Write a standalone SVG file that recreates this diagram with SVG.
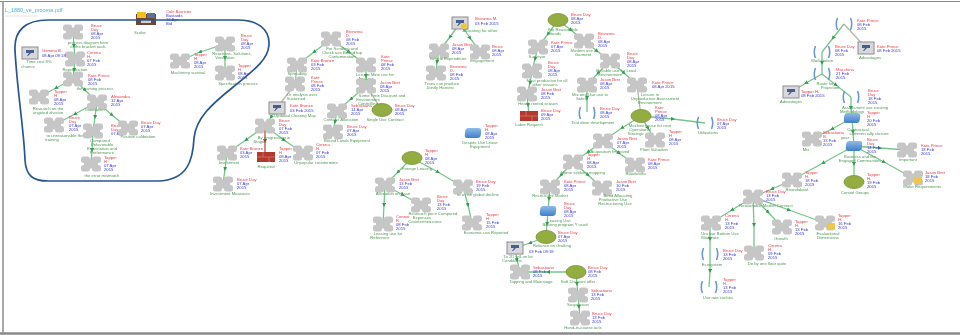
<svg xmlns="http://www.w3.org/2000/svg" width="960" height="335" viewBox="0 0 960 335">
<style>
text{font-family:"Liberation Sans",Arial,sans-serif;font-size:4.2px}
.r{fill:#e8404a}.b{fill:#3a3ad0}.g{fill:#4f9a55;text-anchor:middle}
#edges path{fill:none;stroke:#79c48a;stroke-width:1.3;marker-mid:url(#m)}
#edges path.n{stroke:#b4b8a4;marker-mid:none}
#edges path.x{stroke:#b3503f;marker-mid:url(#mr)}
.el{fill:#93ad3f;stroke:#76923a;stroke-width:.8}
.br{fill:none;stroke:#6d9bc9;stroke-width:1.6}
</style>
<defs>
<filter id="f" filterUnits="userSpaceOnUse" x="0" y="0" width="960" height="335"><feGaussianBlur stdDeviation="0.45"/></filter>
<linearGradient id="bl" x1="0" y1="0" x2="0" y2="1"><stop offset="0" stop-color="#8fbce8"/><stop offset="1" stop-color="#3f7fc8"/></linearGradient>
<marker id="m" markerWidth="6" markerHeight="6" refX="2" refY="2" orient="auto" markerUnits="userSpaceOnUse"><path d="M0 0L4 2L0 4Z" fill="#2f9e50"/></marker>
<marker id="mr" markerWidth="6" markerHeight="6" refX="2" refY="2" orient="auto" markerUnits="userSpaceOnUse"><path d="M0 0L4 2L0 4Z" fill="#a33"/></marker>
<g id="pz" fill="#c6c6c6"><rect x="-10" y="-7.500" width="9" height="6.500" rx="2.500"/><rect x="1" y="-7.500" width="9" height="6.500" rx="2.500"/><rect x="-10" y="1" width="9" height="6.500" rx="2.500"/><rect x="1" y="1" width="9" height="6.500" rx="2.500"/><rect x="-3.500" y="-4.500" width="7" height="9"/><rect x="-7" y="-2.500" width="14" height="5"/></g>
<g id="dc"><rect x="-8" y="-6" width="16" height="12" fill="#d8d8dc" stroke="#8d8d93" stroke-width="1"/><path d="M-4 -3H4V0H1L-2 3H-3L-1 0H-4Z" fill="#44608a"/></g>
<g id="bk"><rect x="-9" y="-5" width="18" height="10" fill="#b5392e"/><path d="M-9 0H9M-3 -5V0M3 0V5" stroke="#e08a80" stroke-width=".6"/></g>
<rect id="bs" x="-8" y="-5" width="16" height="10" rx="3" fill="url(#bl)" transform="skewX(-6)"/>
<path id="bt" class="br" d="M-6.500 -6Q-9 0 -6.500 6M6.500 -6Q9 0 6.500 6"/>
</defs>
<rect width="960" height="335" fill="#fff"/>
<g fill="none" stroke="#8a8a8a"><path d="M0 1.500H960" stroke-width="1.200"/><path d="M3 2V333" stroke-width="1" stroke="#555"/><path d="M0 333.500H960" stroke-width="2.400"/></g>
<g filter="url(#f)">
<text x="5" y="11.500" style="font-size:5.400px;fill:#49b4e0">L_1880_ve_process.pdf</text>
<path d="M5 16H38" stroke="#e4e4e4" stroke-width="1"/>
<g id="edges">
<path d="M73 32L74 46L75 59"/><path d="M75 59L74 70L73 79"/><path d="M73 79L56 88L39 97"/><path d="M73 79L85 90L97 102"/><path d="M97 102L75 114L54 125"/><path d="M97 102L95 117L93 131"/><path d="M97 102L112 115L128 128"/><path d="M93 131L92 150L91 164"/>
<path d="M225 44L200 52L180 61"/><path d="M225 44L225 58L225 73"/>
<path d="M331 39L314 52L297 65"/><path class="n" d="M297 65L295 84L277 108"/><path d="M331 39L349 52L366 65"/><path d="M366 65L366 76L366 86"/><path d="M366 86L351 99L337 111"/><path d="M337 111L335 122L333 132"/><path class="n" d="M366 86L374 98L382 110"/>
<path d="M277 108L271 117L265 126"/><path class="x" d="M265 126L265 141L265 158"/><path d="M265 126L246 140L227 153"/><path d="M227 153L225 169L223 184"/><path d="M265 126L284 140L303 153"/>
<path d="M460 23L450 37L439 51"/><path d="M460 23L470 38L480 52"/><path d="M439 51L437 62L436 73"/>
<path d="M412 158L398 172L385 185"/><path d="M412 158L438 172L463 187"/><path d="M385 185L403 195L421 205"/><path d="M385 185L384 205L383 224"/><path d="M463 187L468 205L472 223"/>
<path d="M558 20L548 34L538 47"/><path d="M538 47L535 59L532 71"/><path d="M532 71L530 83L527 94"/><path d="M527 94L528 105L529 116"/><path d="M558 20L571 30L584 41"/><path d="M584 41L597 51L610 61"/><path d="M610 61L598 73L587 85"/><path d="M610 61L624 73L637 85"/><path d="M587 85L587 98L587 112"/><path class="n" d="M637 85L639 100L641 116"/>
<path d="M641 116L622 128L603 141"/><path d="M641 116L648 128L655 140"/><path d="M641 116L673 119L705 123"/><path d="M603 141L619 153L635 165"/><path d="M603 141L588 152L573 162"/><path d="M573 162L561 175L550 187"/><path d="M573 162L588 175L602 188"/><path d="M550 187L549 199L548 211"/><path d="M548 211L547 224L546 237"/><path d="M546 237L530 243L515 248"/><path d="M515 248L517 260L520 272"/><path d="M576 272L548 272L520 272"/><path d="M576 272L577 284L578 295"/><path d="M578 295L579 307L580 318"/>
<path d="M844 24L833 38L822 52"/><path class="n" d="M844 24L855 36L866 48"/><path d="M822 52L822 63L822 74"/><path d="M822 74L806 83L791 92"/><path d="M822 74L836 85L851 97"/><path d="M851 97L851 108L852 118"/><path d="M852 118L832 129L812 139"/><path d="M852 118L853 132L854 146"/><path d="M854 146L880 148L907 150"/><path d="M854 146L854 164L854 182"/><path d="M854 146L884 162L913 178"/><path d="M854 146L823 163L792 180"/><path d="M792 180L772 189L753 197"/><path d="M753 197L732 210L711 223"/><path d="M753 197L768 212L782 227"/><path d="M753 197L789 210L825 223"/><path d="M753 197L754 225L754 253"/><path d="M710 223L710 239L710 254"/><path d="M710 254L710 271L709 287"/>
</g>
<g id="n-tool"><rect x="136" y="14" width="20" height="11" fill="#6b4a3a"/><rect x="137" y="12" width="9" height="6" fill="#f2c21d"/><rect x="147" y="13" width="8" height="5" fill="#5c6f9c"/><rect x="141" y="20" width="10" height="3" fill="#d8d0c0"/><text class="r" x="166" y="13">Cole Barrister</text><text class="b" x="166" y="17">Bastards</text><text class="b" x="166" y="21">12 Apr</text><text class="b" x="166" y="25">Bid</text><text class="g" x="140" y="33.500">Scribe</text></g>
<g id="n-a"><use href="#pz" x="73" y="32"/><text class="r" x="91" y="27">Bruce</text><text class="r" x="91" y="31">Day</text><text class="b" x="91" y="35">08 Apr</text><text class="b" x="91" y="39">2015</text><text class="g" x="88" y="43.500">process diagram here</text><text class="g" x="88" y="47.500">of the bracket tools</text></g>
<g id="n-b"><use href="#pz" x="75" y="59"/><text class="r" x="87" y="54">Cirrena</text><text class="r" x="87" y="58">H.</text><text class="b" x="87" y="62">07 Feb</text><text class="b" x="87" y="66">2015</text><text class="g" x="75" y="71">Reproduction</text></g>
<g id="n-q"><use href="#dc" x="30" y="53"/><text class="r" x="42" y="52">Gemma B.</text><text class="b" x="42" y="56.500">08 Apr 09:18</text><text class="g" x="39" y="63">Time cost 8%</text><text class="g" x="28" y="67.500">chance</text></g>
<g id="n-c"><use href="#pz" x="73" y="79"/><text class="r" x="88" y="76.500">Kate Prince</text><text class="b" x="88" y="80.500">08 Feb</text><text class="b" x="88" y="84.500">2015</text><text class="g" x="95" y="90">the training process</text></g>
<g id="n-d"><use href="#pz" x="39" y="97"/><text class="r" x="54" y="93">Tapper</text><text class="r" x="54" y="97">H</text><text class="b" x="54" y="101">08 Apr</text><text class="b" x="54" y="105">2015</text><text class="g" x="48" y="110">Research on the</text><text class="g" x="48" y="114">ungated division</text></g>
<g id="n-e"><use href="#pz" x="97" y="102"/><text class="r" x="111" y="98">Alexandra</text><text class="b" x="111" y="102">12 Apr</text><text class="b" x="111" y="106">2015</text><text class="g" x="95" y="111">foundation</text></g>
<g id="n-f"><use href="#pz" x="54" y="125"/><text class="r" x="69" y="119">Bruce</text><text class="r" x="69" y="123">Day</text><text class="b" x="69" y="127">07 Apr</text><text class="b" x="69" y="131">2015</text><text class="g" x="65" y="137">to unreasonable the</text><text class="g" x="52" y="141">training</text></g>
<g id="n-g"><use href="#pz" x="93" y="131"/><text class="r" x="111" y="127">Bruce</text><text class="r" x="111" y="131">Day</text><text class="b" x="111" y="135">07 Apr</text><text class="g" x="100" y="142">Compared</text><text class="g" x="102" y="146">Unfavorable</text><text class="g" x="102" y="150">Expectation and</text><text class="g" x="102" y="154">Performance</text></g>
<g id="n-h"><use href="#pz" x="128" y="128"/><text class="r" x="141" y="124">Bruce Day</text><text class="b" x="141" y="128">07 Apr</text><text class="b" x="141" y="132">2015</text><text class="g" x="138" y="138">Positive calibration</text></g>
<g id="n-i"><use href="#pz" x="91" y="164"/><text class="r" x="104" y="159">Tapper</text><text class="r" x="104" y="163">H</text><text class="b" x="104" y="167">07 Apr</text><text class="b" x="104" y="171">2015</text><text class="g" x="102" y="176.500">the error mismatch</text></g>
<g id="n-j"><use href="#pz" x="225" y="44"/><text class="r" x="241" y="37">Bruce</text><text class="r" x="241" y="41">Day</text><text class="b" x="241" y="45">08 Apr</text><text class="b" x="241" y="49">2015</text><text class="g" x="232" y="55">Reactions, Solutions,</text><text class="g" x="225" y="59">Ventilation</text></g>
<g id="n-k"><use href="#pz" x="180" y="61"/><text class="r" x="194" y="56">Tapper</text><text class="r" x="194" y="60">H</text><text class="b" x="194" y="64">08 Apr</text><text class="b" x="194" y="68">2015</text><text class="g" x="188" y="73.500">Machinery survival</text></g>
<g id="n-l"><use href="#pz" x="225" y="73"/><text class="r" x="238" y="67">Tapper</text><text class="r" x="238" y="71">H</text><text class="b" x="238" y="75">08 Apr</text><text class="b" x="238" y="79">2015</text><text class="g" x="238" y="85">Specification process</text></g>
<g id="n-m"><use href="#pz" x="331" y="39"/><text class="r" x="346" y="33">Bronzina</text><text class="r" x="346" y="37">D.</text><text class="b" x="346" y="41">08 Feb</text><text class="b" x="346" y="45">2015</text><text class="g" x="342" y="50">For Scrolling and</text><text class="g" x="342" y="54">Check use Bound top</text><text class="g" x="342" y="58">Contamination</text></g>
<g id="n-n"><use href="#pz" x="297" y="65"/><text class="r" x="311" y="62">Kate Bronze</text><text class="b" x="311" y="66">03 Feb</text><text class="b" x="311" y="70">2015</text><text class="g" x="297" y="75">Spreading</text></g>
<g id="n-o"><use href="#pz" x="295" y="84"/><text class="r" x="311" y="79">Kate</text><text class="r" x="311" y="83">Prince</text><text class="b" x="311" y="87">08 Feb</text><text class="b" x="311" y="91">2015</text><text class="g" x="302" y="96">Or analysis over</text><text class="g" x="296" y="100">Sustained</text></g>
<g id="n-p"><use href="#dc" x="277" y="108"/><text class="r" x="290" y="107">Kate Bronze</text><text class="b" x="290" y="111.500">03 Feb 2015</text><text class="g" x="295" y="117">Updated Clearing Map</text></g>
<g id="n-r"><use href="#pz" x="265" y="126"/><text class="r" x="279" y="122">Bruce</text><text class="r" x="279" y="126">Day</text><text class="b" x="279" y="130">07 Feb</text><text class="b" x="279" y="134">2015</text><text class="g" x="274" y="139">By progressing in</text><text class="g" x="260" y="143">Stages</text></g>
<g id="n-s"><use href="#bk" x="266" y="157"/><text class="r" x="279" y="150">Tapper</text><text class="r" x="279" y="154">H</text><text class="b" x="279" y="158">08 Apr</text><text class="b" x="279" y="162">2015</text><text class="g" x="266" y="168">Required</text></g>
<g id="n-t"><use href="#pz" x="227" y="153"/><text class="r" x="240" y="150">Kate Bronze</text><text class="b" x="240" y="154">03 Apr</text><text class="b" x="240" y="158">2015</text><text class="g" x="229" y="163.500">Investment</text></g>
<g id="n-u"><use href="#pz" x="223" y="184"/><text class="r" x="237" y="181">Bruce Day</text><text class="b" x="237" y="185">07 Apr</text><text class="b" x="237" y="189">2015</text><text class="g" x="230" y="194.500">Investment Measures</text></g>
<g id="n-v"><use href="#pz" x="303" y="153"/><text class="r" x="316" y="146">Cirrena</text><text class="r" x="316" y="150">H.</text><text class="b" x="316" y="154">07 Feb</text><text class="b" x="316" y="158">2015</text><text class="g" x="316" y="164">Unpopular countermine</text></g>
<g id="n-w"><use href="#pz" x="366" y="65"/><text class="r" x="381" y="58">Kate</text><text class="r" x="381" y="62">Prince</text><text class="b" x="381" y="66">08 Feb</text><text class="b" x="381" y="70">2015</text><text class="g" x="375" y="75.500">Leisure Mine use for</text><text class="g" x="366" y="79.500">Analysis</text></g>
<g id="n-x"><use href="#pz" x="366" y="86"/><text class="r" x="380" y="84">Jason Bret</text><text class="b" x="380" y="88">08 Apr</text><text class="b" x="380" y="92">2015</text><text class="g" x="382" y="97">Some Time Discount and</text><text class="g" x="368" y="101">Environment</text><text class="g" x="368" y="105">Controlling</text></g>
<g id="n-y"><use href="#pz" x="337" y="111"/><text class="r" x="351" y="107">Sebastiana</text><text class="b" x="351" y="111">14 Apr</text><text class="b" x="351" y="115">2015</text><text class="g" x="341" y="121">Contract Allocation</text></g>
<g id="n-z"><use href="#pz" x="333" y="132"/><text class="r" x="347" y="128">Bruce Day</text><text class="b" x="347" y="132">07 Apr</text><text class="b" x="347" y="136">2015</text><text class="g" x="347" y="142">Bound Lands Equipment</text></g>
<g id="n-aa"><ellipse class="el" cx="382" cy="110" rx="10" ry="6.500"/><text class="r" x="395" y="107">Bruce Day</text><text class="b" x="395" y="111">08 Apr</text><text class="b" x="395" y="115">2015</text><text class="g" x="385" y="121">Single Use Contract</text></g>
<g id="n-ab"><use href="#dc" x="460" y="23"/><circle cx="464" cy="26" r="3" fill="#f0c838"/><text class="r" x="475" y="20">Bronzina M.</text><text class="b" x="475" y="24.500">03 Feb 2015</text><text class="g" x="480" y="32">Allocating for other</text></g>
<g id="n-ac"><use href="#pz" x="439" y="51"/><text class="r" x="452" y="46">Jason Bret</text><text class="b" x="452" y="50">08 Apr</text><text class="b" x="452" y="54">2015</text><text class="g" x="448" y="60">Vehicle Expenditure</text></g>
<g id="n-ad"><use href="#pz" x="480" y="52"/><text class="r" x="492" y="48">Bruce</text><text class="b" x="492" y="52">08 Apr</text><text class="b" x="492" y="56">2015</text><text class="g" x="482" y="62">Engagement</text></g>
<g id="n-ae"><use href="#pz" x="436" y="73"/><text class="r" x="450" y="68">Bronzina</text><text class="r" x="450" y="72">D.</text><text class="b" x="450" y="76">08 Feb</text><text class="b" x="450" y="80">2015</text><text class="g" x="442" y="85">Trees can produce</text><text class="g" x="440" y="89">Jointly Harvest</text></g>
<g id="n-af"><use href="#bs" x="473" y="133"/><text class="r" x="485" y="127">Tapper</text><text class="r" x="485" y="131">H.</text><text class="b" x="485" y="135">08 Apr</text><text class="b" x="485" y="139">2015</text><text class="g" x="480" y="144">Despite Use Lease</text><text class="g" x="480" y="148">Equipment</text></g>
<g id="n-ag"><ellipse class="el" cx="412" cy="158" rx="10" ry="6.500"/><text class="r" x="425" y="152">Tapper</text><text class="r" x="425" y="156">H</text><text class="b" x="425" y="160">08 Apr</text><text class="b" x="425" y="164">2015</text><text class="g" x="417" y="170">Foreign Leasing</text></g>
<g id="n-ah"><use href="#pz" x="385" y="185"/><text class="r" x="399" y="181">Jason Bret</text><text class="b" x="399" y="185">13 Feb</text><text class="b" x="399" y="189">2015</text><text class="g" x="393" y="195">Allocation on Base</text></g>
<g id="n-ai"><use href="#pz" x="463" y="187"/><text class="r" x="476" y="183">Bruce Day</text><text class="b" x="476" y="187">19 Feb</text><text class="b" x="476" y="191">2015</text><text class="g" x="478" y="196">to a rise global decline</text></g>
<g id="n-aj"><use href="#pz" x="421" y="205"/><text class="r" x="437" y="198">Bruce</text><text class="r" x="437" y="202">Day</text><text class="b" x="437" y="206">13 Feb</text><text class="b" x="437" y="210">2015</text><text class="g" x="433" y="215">Research price Compared</text><text class="g" x="422" y="219">Expenses</text><text class="g" x="425" y="223">Countermeasures</text></g>
<g id="n-ak"><use href="#pz" x="383" y="224"/><text class="r" x="396" y="218">Connor</text><text class="r" x="396" y="222">R.</text><text class="b" x="396" y="226">08 Feb</text><text class="b" x="396" y="230">2015</text><text class="g" x="388" y="235">Leasing use for</text><text class="g" x="380" y="239">Reference</text></g>
<g id="n-al"><use href="#pz" x="472" y="223"/><text class="r" x="486" y="216">Tapper</text><text class="r" x="486" y="220">H</text><text class="b" x="486" y="224">15 Feb</text><text class="b" x="486" y="228">2015</text><text class="g" x="486" y="234">Economic use Reported</text></g>
<g id="n-am"><ellipse class="el" cx="558" cy="20" rx="10" ry="6.500"/><text class="r" x="571" y="16">Bruce Day</text><text class="b" x="571" y="20">08 Apr</text><text class="b" x="571" y="24">2015</text><text class="g" x="563" y="31">For Reasonable</text><text class="g" x="555" y="35">Goods</text></g>
<g id="n-an"><use href="#pz" x="538" y="47"/><text class="r" x="551" y="44">Kate Prince</text><text class="b" x="551" y="48">07 Apr</text><text class="b" x="551" y="52">2015</text><text class="g" x="537" y="57.500">Surveyor</text></g>
<g id="n-ao"><use href="#pz" x="532" y="71"/><text class="r" x="548" y="64">Bruce</text><text class="r" x="548" y="68">Day</text><text class="b" x="548" y="72">08 Apr</text><text class="b" x="548" y="76">2015</text><text class="g" x="547" y="82">Most productive for all</text><text class="g" x="545" y="86">other reasons</text></g>
<g id="n-ap"><use href="#pz" x="527" y="94"/><text class="r" x="541" y="91">Jason Bret</text><text class="b" x="541" y="95">08 Feb</text><text class="b" x="541" y="99">2015</text><text class="g" x="538" y="105">Heavy rented season</text></g>
<g id="n-aq"><use href="#bk" x="529" y="116"/><text class="r" x="541" y="112">Bruce Day</text><text class="b" x="541" y="116">09 Apr</text><text class="b" x="541" y="120">2015</text><text class="g" x="529" y="125.500">Labor Request</text></g>
<g id="n-ar"><use href="#pz" x="584" y="41"/><text class="r" x="598" y="35">Bronzina</text><text class="r" x="598" y="39">D.</text><text class="b" x="598" y="43">08 Apr</text><text class="b" x="598" y="47">2015</text><text class="g" x="584" y="52">Modern use of</text><text class="g" x="583" y="56">Garment</text></g>
<g id="n-as"><use href="#pz" x="610" y="61"/><text class="r" x="627" y="55">Bruce</text><text class="r" x="627" y="59">Day</text><text class="b" x="627" y="63">08 Apr</text><text class="b" x="627" y="67">2015</text><text class="g" x="616" y="72">Reliable use for Lead</text><text class="g" x="610" y="76">Environment</text></g>
<g id="n-at"><use href="#pz" x="587" y="85"/><text class="r" x="600" y="81">Jason Bret</text><text class="b" x="600" y="85">08 Apr</text><text class="b" x="600" y="89">2015</text><text class="g" x="590" y="96">Mix and Use use to</text><text class="g" x="582" y="100">Safety</text></g>
<g id="n-au"><use href="#pz" x="637" y="85"/><text class="r" x="652" y="84">Kate Prince</text><text class="b" x="652" y="88">08 Apr 2015</text><text class="g" x="650" y="96">Leisure in</text><text class="g" x="655" y="100">Unproductive Assessment</text><text class="g" x="650" y="104">Environment</text></g>
<g id="n-av"><use href="#bt" x="587" y="113"/><text class="r" x="600" y="110">Bruce Day</text><text class="b" x="600" y="114">08 Apr</text><text class="b" x="600" y="118">2015</text><text class="g" x="593" y="124">Test drive development</text></g>
<g id="n-aw"><ellipse class="el" cx="641" cy="116" rx="10" ry="6.500"/><text class="r" x="655" y="109">Kate</text><text class="r" x="655" y="113">Prince</text><text class="b" x="655" y="117">08 Apr</text><text class="b" x="655" y="121">2015</text><text class="g" x="650" y="126.500">Machinery use for next</text><text class="g" x="640" y="130.500">Operational</text><text class="g" x="636" y="134.500">Strategic</text></g>
<g id="n-ax"><use href="#pz" x="603" y="141"/><text class="r" x="617" y="139.500">Jason Bret</text><text class="b" x="617" y="143.500">07 Apr</text><text class="b" x="617" y="147.500">2015</text><text class="g" x="610" y="152.500">Acquisition Improved</text></g>
<g id="n-ay"><use href="#pz" x="655" y="140"/><text class="r" x="669" y="133">Tapper</text><text class="r" x="669" y="137">H</text><text class="b" x="669" y="141">08 Apr</text><text class="b" x="669" y="145">2015</text><text class="g" x="654" y="151">Plant Valuation</text></g>
<g id="n-az"><use href="#bt" x="705" y="123"/><text class="r" x="717" y="121">Bruce Day</text><text class="b" x="717" y="125">07 Apr</text><text class="b" x="717" y="129">2015</text><text class="g" x="708" y="134">Utilizations</text></g>
<g id="n-ba"><use href="#pz" x="635" y="165"/><text class="r" x="648" y="161">Kate Prince</text><text class="b" x="648" y="165">08 Apr</text><text class="b" x="648" y="169">2015</text><text class="g" x="636" y="175">Roadworks</text></g>
<g id="n-bb"><use href="#pz" x="573" y="162"/><text class="r" x="587" y="156">Tapper</text><text class="r" x="587" y="160">H</text><text class="b" x="587" y="164">08 Apr</text><text class="b" x="587" y="168">2015</text><text class="g" x="583" y="174">Home seeking mapping</text></g>
<g id="n-bc"><use href="#pz" x="550" y="187"/><text class="r" x="564" y="183">Kate Prince</text><text class="b" x="564" y="187">08 Apr</text><text class="b" x="564" y="191">2015</text><text class="g" x="550" y="196.500">Restructure Market</text></g>
<g id="n-bd"><use href="#pz" x="602" y="188"/><text class="r" x="616" y="183">Jason Bret</text><text class="b" x="616" y="187">10 Feb</text><text class="b" x="616" y="191">2015</text><text class="g" x="618" y="197">Bond Allocating</text><text class="g" x="613" y="201">Productive Use</text><text class="g" x="615" y="205">Restructuring Use</text></g>
<g id="n-be"><use href="#bs" x="548" y="211"/><text class="r" x="564" y="205">Bruce</text><text class="r" x="564" y="209">Day</text><text class="b" x="564" y="213">08 Apr</text><text class="b" x="564" y="217">2015</text><text class="g" x="559" y="222">Leasing Use</text><text class="g" x="565" y="226">Bearing program Y used</text></g>
<g id="n-bf"><ellipse class="el" cx="546" cy="237" rx="10" ry="6.500"/><text class="r" x="558" y="233.500">Bruce Day</text><text class="b" x="558" y="237.500">07 Apr</text><text class="b" x="558" y="241.500">2015</text><text class="g" x="552" y="247">Reliance on Grafting</text></g>
<g id="n-bg"><use href="#dc" x="515" y="248"/><text class="b" x="529" y="252.500">03 Feb 09:18</text><text class="g" x="518" y="258">To 2D will on lot</text><text class="g" x="512" y="262">Conditions</text></g>
<g id="n-bh"><use href="#pz" x="520" y="272"/><text class="r" x="533" y="268.500">Sebastiana</text><text class="b" x="533" y="272.500">08 Feb</text><text class="b" x="533" y="276.500">2015</text><text class="g" x="531" y="283">Tapping and Mainstage</text></g>
<g id="n-bi"><ellipse class="el" cx="576" cy="272" rx="10" ry="6.500"/><text class="r" x="588" y="268.500">Bruce Day</text><text class="b" x="588" y="272.500">08 Feb</text><text class="b" x="588" y="276.500">2015</text><text class="g" x="578" y="283">Soft Discount offer</text></g>
<g id="n-bj"><use href="#pz" x="578" y="295"/><text class="r" x="591" y="291.500">Sebastiana</text><text class="b" x="591" y="295.500">13 Feb</text><text class="b" x="591" y="299.500">2015</text><text class="g" x="578" y="305.500">Suspension</text></g>
<g id="n-bk"><use href="#pz" x="580" y="318"/><text class="r" x="592" y="314.500">Bruce Day</text><text class="b" x="592" y="318.500">13 Feb</text><text class="b" x="592" y="322.500">2015</text><text class="g" x="583" y="329">Hand-in-course acts</text></g>
<g id="n-bl"><use href="#bt" x="844" y="24"/><text class="r" x="857" y="22">Kate Prince</text><text class="b" x="857" y="26">08 Feb</text><text class="b" x="857" y="30">2015</text></g>
<g id="n-bm"><use href="#dc" x="866" y="48"/><text class="r" x="877" y="47.500">Kate Prince</text><text class="b" x="877" y="51.500">08 Feb 2015</text><text class="g" x="870" y="58.500">Advantages</text></g>
<g id="n-bn"><use href="#bt" x="822" y="52"/><text class="r" x="835" y="48">Bruce Day</text><text class="b" x="835" y="52">08 Feb</text><text class="b" x="835" y="56">2015</text><text class="g" x="822" y="62">Workstation</text></g>
<g id="n-bo"><use href="#bt" x="822" y="74"/><text class="r" x="836" y="71">Macchina</text><text class="b" x="836" y="75">21 Feb</text><text class="b" x="836" y="79">2015</text><text class="g" x="825" y="84.500">Route for</text><text class="g" x="830" y="88.500">Projection</text></g>
<g id="n-bp"><use href="#dc" x="791" y="92"/><text class="r" x="801" y="92.500">Tapper H.</text><text class="b" x="801" y="97">08 Feb 2015</text><text class="g" x="791" y="102.500">Advantages</text></g>
<g id="n-bq"><use href="#bt" x="851" y="97"/><text class="r" x="868" y="92">Bruce</text><text class="r" x="868" y="96">Day</text><text class="b" x="868" y="100">18 Feb</text><text class="b" x="868" y="104">2015</text><text class="g" x="865" y="109">Assessment use existing</text><text class="g" x="852" y="113">Methodology</text></g>
<g id="n-br"><use href="#bs" x="852" y="118"/><text class="r" x="867" y="114">Tapper</text><text class="r" x="867" y="118">H</text><text class="b" x="867" y="122">20 Feb</text><text class="b" x="867" y="126">2015</text><text class="g" x="858" y="131">Contractual</text><text class="g" x="869" y="135">commercially closure</text><text class="g" x="845" y="139">year</text></g>
<g id="n-bs"><use href="#pz" x="812" y="139"/><text class="r" x="823" y="134">Sebastiana</text><text class="r" x="823" y="138">B.</text><text class="b" x="823" y="142">13 Feb</text><text class="b" x="823" y="146">2015</text><text class="g" x="806" y="151">Mix</text></g>
<g id="n-bt"><use href="#bs" x="854" y="146"/><text class="r" x="867" y="141">Bruce</text><text class="r" x="867" y="145">Day</text><text class="b" x="867" y="149">14 Feb</text><text class="b" x="867" y="153">2015</text><text class="g" x="860" y="158">Business and the</text><text class="g" x="860" y="162">Engaged Communities</text></g>
<g id="n-bu"><use href="#pz" x="907" y="150"/><text class="r" x="921" y="147">Kate Prince</text><text class="b" x="921" y="151">18 Feb</text><text class="b" x="921" y="155">2015</text><text class="g" x="908" y="161">Important</text></g>
<g id="n-bv"><ellipse class="el" cx="854" cy="182" rx="10" ry="6.500"/><text class="r" x="867" y="176">Tapper</text><text class="r" x="867" y="180">H.</text><text class="b" x="867" y="184">19 Feb</text><text class="b" x="867" y="188">2015</text><text class="g" x="855" y="193.500">Control Groups</text></g>
<g id="n-bw"><use href="#pz" x="913" y="178"/><rect x="914" y="177" width="8" height="6" fill="#eec64a"/><text class="r" x="925" y="174">Jason Bret</text><text class="b" x="925" y="178">18 Feb</text><text class="b" x="925" y="182">2015</text><text class="g" x="922" y="188">Water Requirements</text></g>
<g id="n-bx"><use href="#pz" x="792" y="180"/><text class="r" x="805" y="174">Tapper</text><text class="r" x="805" y="178">H.</text><text class="b" x="805" y="182">18 Feb</text><text class="b" x="805" y="186">2015</text><text class="g" x="797" y="191">Roundabout</text></g>
<g id="n-by"><use href="#pz" x="753" y="197"/><text class="r" x="766" y="193">Bruce Day</text><text class="b" x="766" y="197">13 Feb</text><text class="b" x="766" y="201">2015</text><text class="g" x="766" y="206.500">Reasonable Market Contract</text></g>
<g id="n-bz"><use href="#pz" x="711" y="223"/><text class="r" x="725" y="217">Cirrena</text><text class="r" x="725" y="221">H.</text><text class="b" x="725" y="225">13 Feb</text><text class="b" x="725" y="229">2015</text><text class="g" x="720" y="235">Unclear Bottom Use</text><text class="g" x="710" y="239">Moderate</text></g>
<g id="n-ca"><use href="#pz" x="782" y="227"/><text class="r" x="795" y="223">Tapper</text><text class="r" x="795" y="227">H.</text><text class="b" x="795" y="231">13 Feb</text><text class="b" x="795" y="235">2015</text><text class="g" x="781" y="239.500">Growth</text></g>
<g id="n-cb"><use href="#pz" x="825" y="223"/><rect x="827" y="223" width="8" height="6" fill="#eec64a"/><text class="r" x="838" y="216.500">Tapper</text><text class="r" x="838" y="220.500">H.</text><text class="b" x="838" y="224.500">16 Feb</text><text class="b" x="838" y="228.500">2015</text><text class="g" x="828" y="235">Evaluational</text><text class="g" x="828" y="239">Dimensions</text></g>
<g id="n-cc"><use href="#pz" x="754" y="253"/><text class="r" x="768" y="247">Cirrena</text><text class="r" x="768" y="251">H.</text><text class="b" x="768" y="255">09 Feb</text><text class="b" x="768" y="259">2015</text><text class="g" x="767" y="265">Do by one floor quite</text></g>
<g id="n-cd"><use href="#bt" x="710" y="254"/><text class="r" x="723" y="252">Bruce Day</text><text class="b" x="723" y="256">13 Feb</text><text class="b" x="723" y="260">2015</text><text class="g" x="712" y="266">Ecosystem</text></g>
<g id="n-ce"><use href="#bt" x="709" y="287"/><text class="r" x="723" y="281">Tapper</text><text class="r" x="723" y="285">H.</text><text class="b" x="723" y="289">13 Feb</text><text class="b" x="723" y="293">2015</text><text class="g" x="718" y="298.500">Use rate caches</text></g>
</g>
<path id="outline" d="M15 50C14 30 26 20 48 20H238C256 20 270 28 269 45C268 60 254 70 232 88C212 104 196 118 194 138C193 160 188 180 158 181H48C33 181 26 176 25 160C24 130 17 90 15 50Z" fill="none" stroke="#28568f" stroke-width="1.700"/>
</svg>
